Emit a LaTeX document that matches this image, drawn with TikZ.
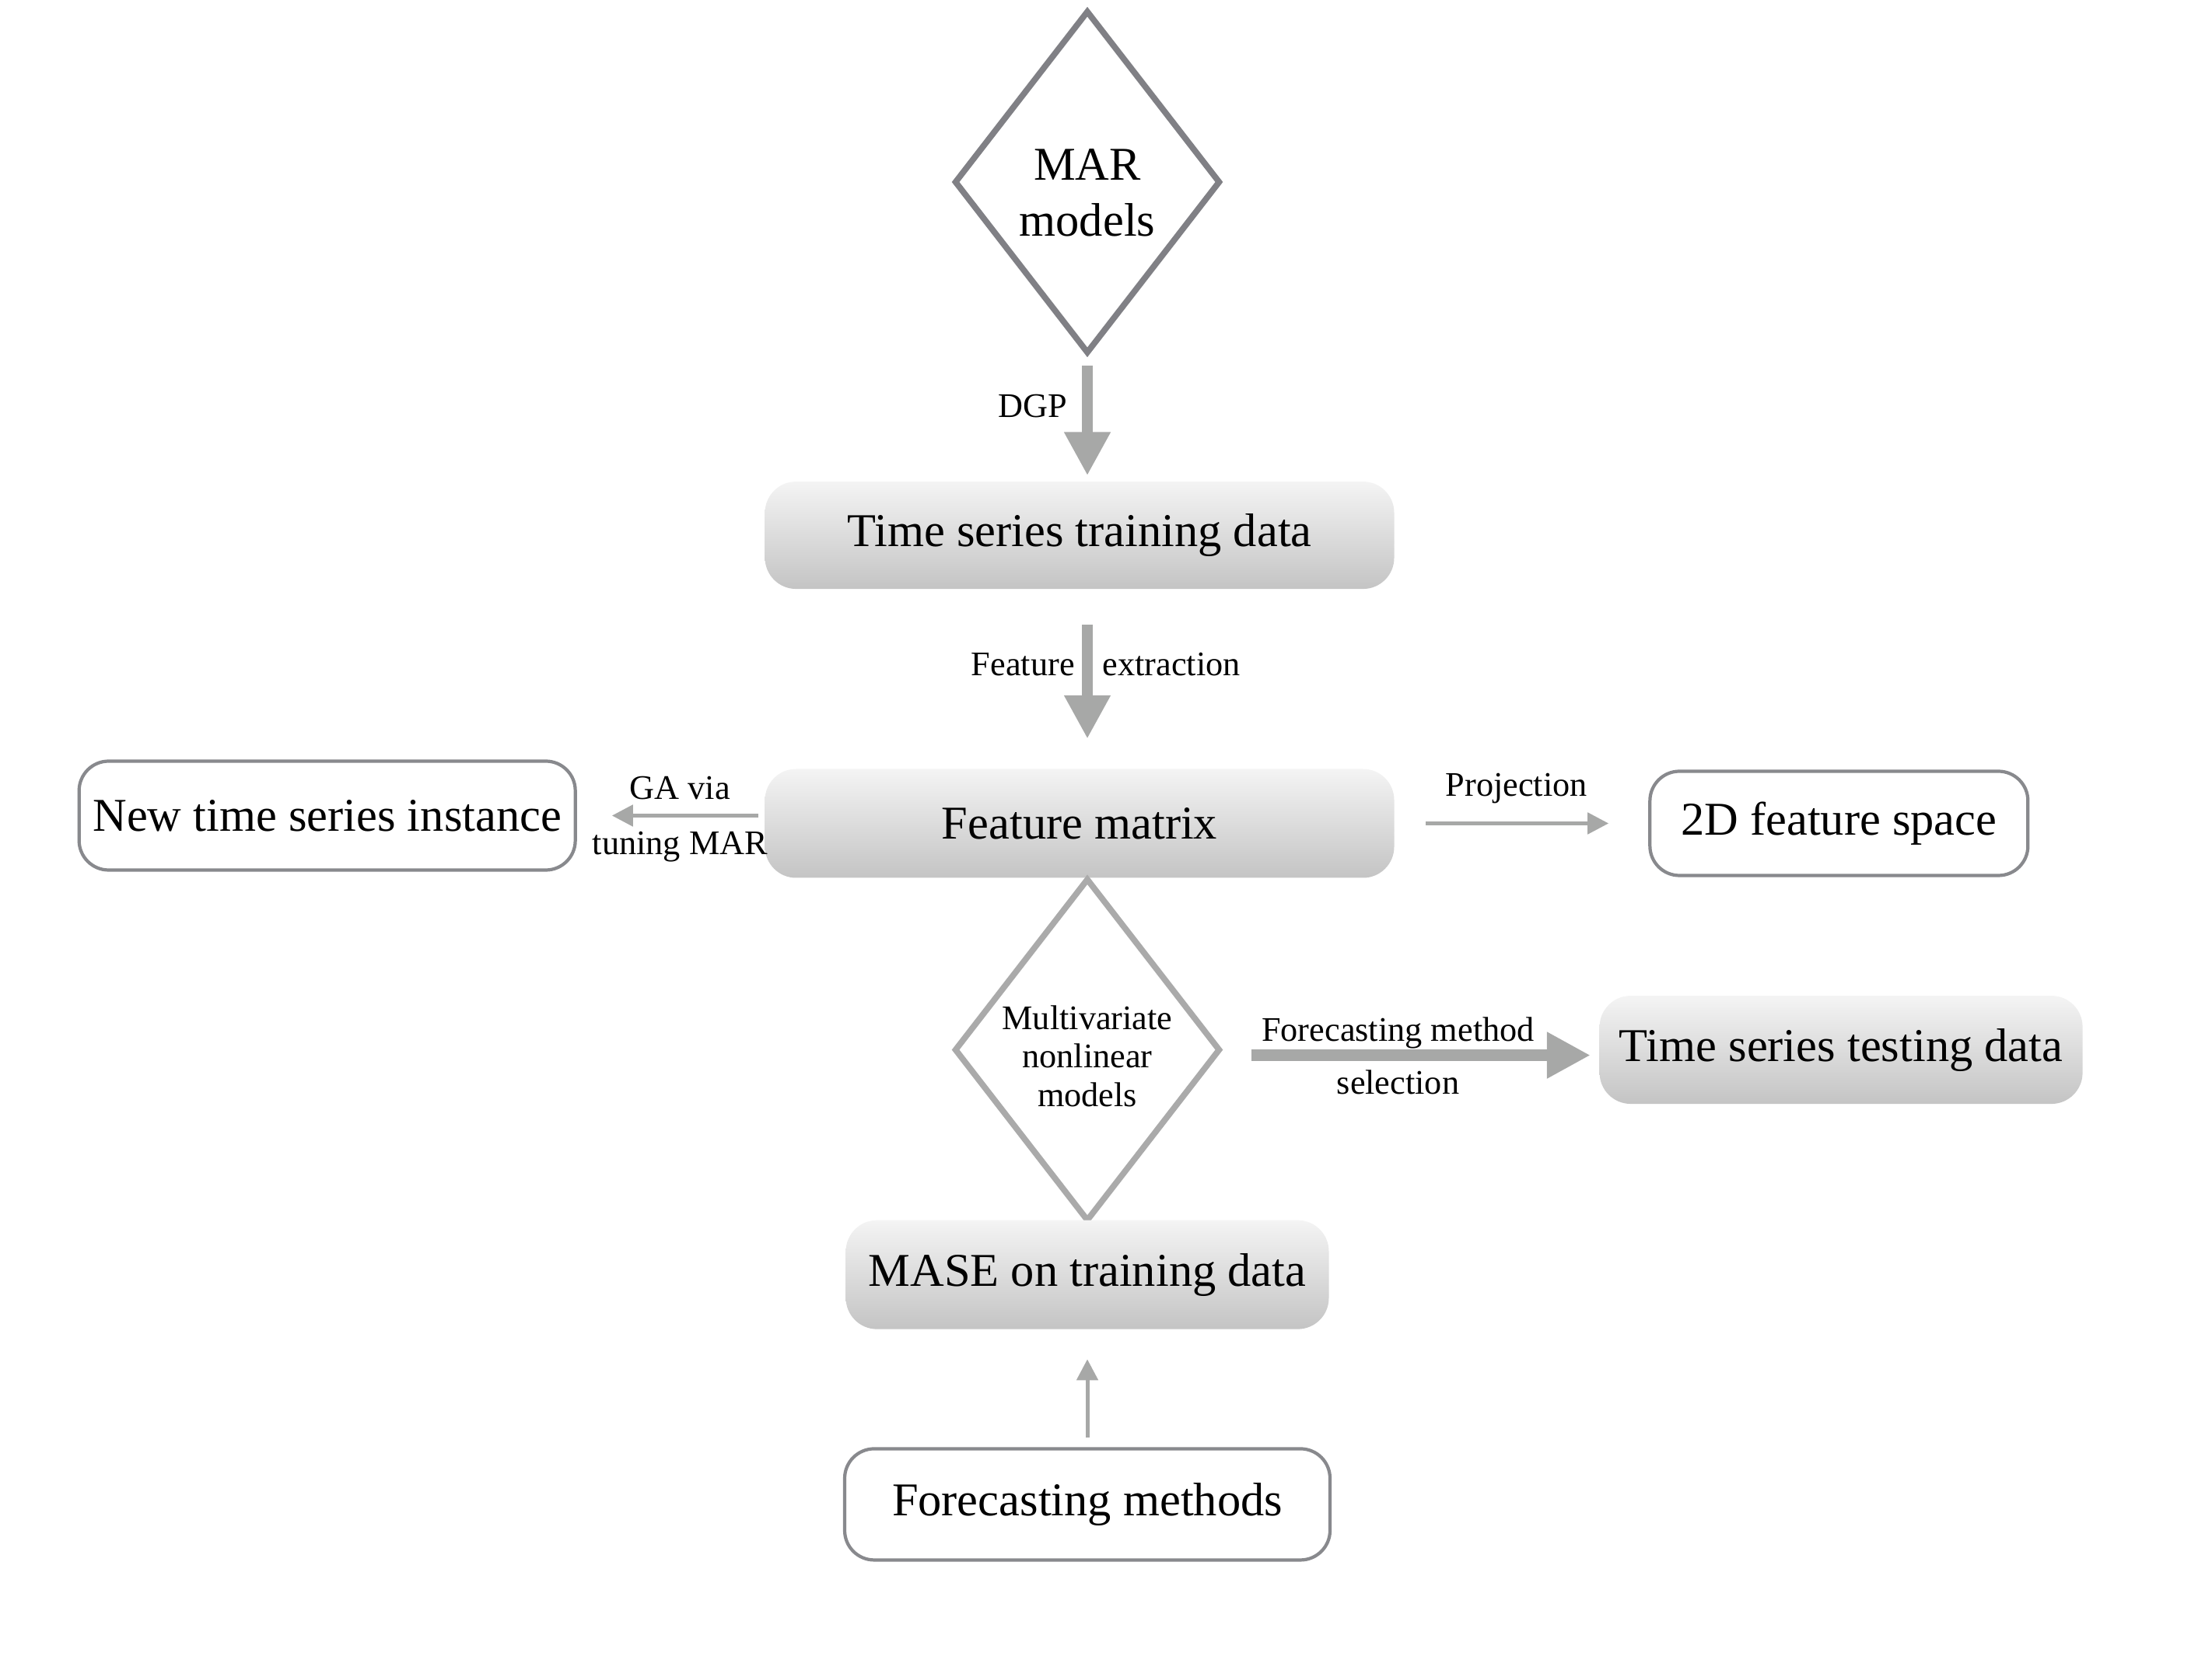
\documentclass[tikz,border=0pt]{standalone}
\usepackage{fontspec}
\setmainfont{Liberation Serif}
\usetikzlibrary{arrows.meta, positioning, shapes.geometric}
\definecolor{ink}{HTML}{000000}
\definecolor{edge}{HTML}{88898D}
\definecolor{diadk}{HTML}{808085}
\definecolor{dialt}{HTML}{AAAAAA}
\definecolor{flow}{HTML}{A7A8A7}
\definecolor{shadetop}{HTML}{F4F4F4}
\definecolor{shadebot}{HTML}{C4C4C4}
\tikzset{
  bigtext/.style={font=\fontsize{17.2}{20.6}\selectfont, text=ink},
  smalltext/.style={font=\fontsize{12.6}{14.2}\selectfont, text=ink},
  gbox/.style={bigtext, rounded corners=4mm, top color=shadetop, bottom color=shadebot,
               draw=none, inner sep=0pt},
  wbox/.style={bigtext, rounded corners=3.8mm, draw=edge, fill=white, line width=1.2pt,
               inner sep=0pt},
  dia/.style={diamond, aspect=0.78, inner sep=0pt, line width=2.2pt, fill=white,
              minimum width=3.42cm, minimum height=4.41cm, align=center},
  lbl/.style={smalltext, inner sep=1pt},
  fl/.style={-{Triangle[length=5.6mm, width=5.6mm]}, line width=1.45mm, draw=flow},
  flthin/.style={-{Triangle[length=2.7mm, width=2.7mm]}, line width=0.5mm, draw=flow},
}
\begin{document}
\begin{tikzpicture}
  \useasboundingbox (0,0) rectangle (28.44,-21.33);
  \node[dia, draw=diadk, bigtext, text height=1.4cm] (mar) at (13.98,-2.34) {MAR\\models};
  \node[gbox, minimum width=8.09cm, minimum height=1.38cm, below=16mm of mar, xshift=-1mm]
    (tstd) {Time series training data};
  \node[gbox, minimum width=8.09cm, minimum height=1.40cm, below=23mm of tstd]
    (fm) {Feature matrix};
  \node[dia, draw=dialt, smalltext, text height=1.47cm, below=-0.4mm of fm, xshift=1mm]
    (mnl) {Multivariate\\nonlinear\\models};
  \node[gbox, minimum width=6.21cm, minimum height=1.40cm, below=-0.6mm of mnl]
    (mase) {MASE on training data};
  \node[wbox, minimum width=6.24cm, minimum height=1.43cm, below=15.1mm of mase]
    (fmeth) {Forecasting methods};
  \node[wbox, minimum width=6.38cm, minimum height=1.40cm, left=24.1mm of fm, yshift=1mm]
    (ntsi) {New time series instance};
  \node[wbox, minimum width=4.86cm, minimum height=1.34cm, right=32.6mm of fm]
    (fs2d) {2D feature space};
  \node[gbox, minimum width=6.21cm, minimum height=1.39cm, right=48.3mm of mnl]
    (tsted) {Time series testing data};
  \draw[fl, shorten <=1.2mm, shorten >=0.7mm] (mar.south) -- (mar.south |- tstd.north)
    node[lbl, pos=0.49, anchor=base east, xshift=-1.55mm] {DGP};
  \draw[fl, shorten <=4.5mm, shorten >=3.8mm] (mar.south |- tstd.south) -- (mar.south |- fm.north)
    node[lbl, pos=0.48, anchor=base east, xshift=-0.55mm] {Feature}
    node[lbl, pos=0.48, anchor=base west, xshift=0.9mm] {extraction};
  \draw[flthin, shorten <=0.8mm, shorten >=4.5mm] (ntsi.east -| fm.west) -- (ntsi.east)
    node[lbl, pos=0.45, anchor=base, yshift=2.1mm] {GA via}
    node[lbl, pos=0.45, anchor=base, yshift=-5mm] {tuning MAR};
  \draw[flthin, shorten <=4mm, shorten >=5.1mm] (fm.east) -- (fm.east -| fs2d.west)
    node[lbl, pos=0.48, anchor=base, yshift=3.5mm] {Projection};
  \draw[fl, shorten <=3.6mm, shorten >=1.1mm] ([yshift=-0.7mm]mnl.east) -- ([yshift=-0.7mm]mnl.east -| tsted.west)
    node[lbl, pos=0.465, anchor=base, yshift=1.8mm] {Forecasting method}
    node[lbl, pos=0.465, anchor=base, yshift=-5mm] {selection};
  \draw[flthin, shorten <=1.2mm, shorten >=3.8mm] (fmeth.north) -- (fmeth.north |- mase.south);
\end{tikzpicture}
\end{document}
